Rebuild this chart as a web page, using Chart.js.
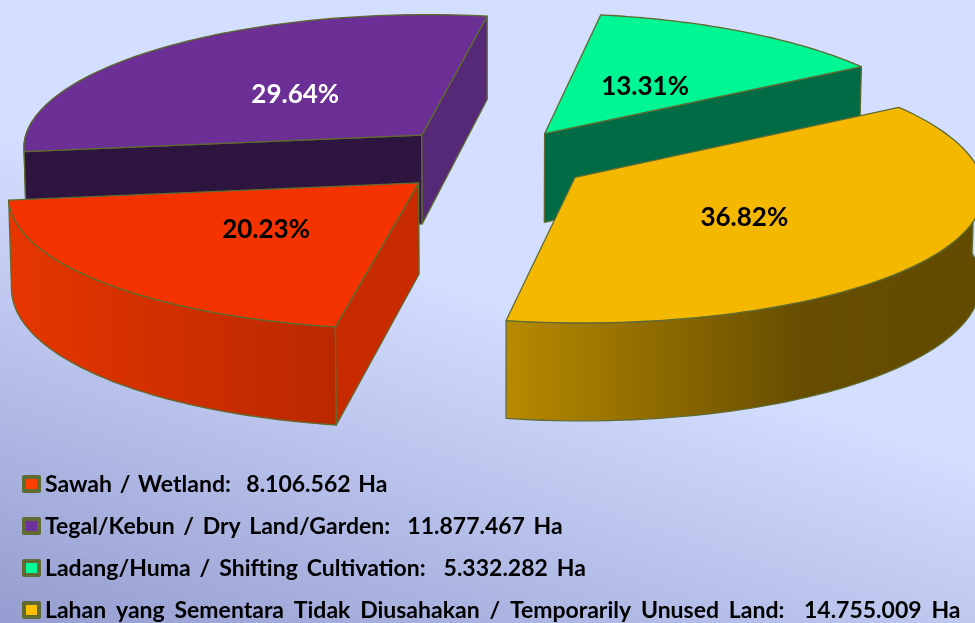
<!DOCTYPE html>
<html>
<head>
<meta charset="utf-8">
<style>html,body{margin:0;padding:0;background:#d4deff;overflow:hidden}canvas{display:block}</style>
<script src="https://cdn.jsdelivr.net/npm/chart.js@4/dist/chart.umd.min.js"></script>
</head>
<body>
<canvas id="c" width="975" height="623"></canvas>
<script>
const categories = ['Sawah / Wetland', 'Tegal/Kebun / Dry Land/Garden', 'Ladang/Huma / Shifting Cultivation', 'Lahan yang Sementara Tidak Diusahakan / Temporarily Unused Land'];
const hectares = [8106562, 11877467, 5332282, 14755009];
const unit = 'Ha';

const topColors = ['#F53300', '#6B2F95', '#00F593', '#F4B800'];
const markerColors = ['#FF4000', '#7030A0', '#00FF99', '#FFC000'];
const labelColors = ['#000000', '#FFFFFF', '#000000', '#000000'];
const explode = [102, 105, 96, 98];
const labelReach = [0.52, 0.45, 0.43, 0.5];
const labelNudgeX = [8, -8, 11, -6];
const labelNudgeY = [-3, 0, -2, 2];
const legendWordGap = [2.1, 3.0, 3.4, 4.2];
const drawOrder = [1, 2, 0, 3];
const edge = '#5F6B30';

// camera
const squash = 0.327, focalY = 14, focalX = 12, widthScale = 0.993, depth = 90, taper = 0.994;

function proj(cx, cy, R, u, v, h) {
  const py = focalY / (focalY - v / R);
  const px = widthScale * focalX / (focalX - v / R);
  return { x: cx + u * px * (h ? taper : 1), y: cy + squash * v * py + (h ? depth * py : 0) };
}

function wallFill(ctx, i, x0, x1) {
  const g = ctx.createLinearGradient(x0, 0, x1, 0);
  if (i === 0) { g.addColorStop(0, '#E63600'); g.addColorStop(1, '#BA2800'); }
  else if (i === 3) { g.addColorStop(0, '#B88A00'); g.addColorStop(0.6, '#664D00'); g.addColorStop(1, '#624A00'); }
  else if (i === 1) { g.addColorStop(0, '#2E1540'); g.addColorStop(1, '#2E1540'); }
  else { g.addColorStop(0, '#006B45'); g.addColorStop(1, '#006B45'); }
  return g;
}
const radialWall = ['#C82B00', '#562878', '#006B45', '#8A6800'];

const pie3d = {
  id: 'pie3d',
  beforeDraw(chart) {
    const { ctx, width, height } = chart;
    const g = ctx.createLinearGradient(0, 130, -149, 572);
    g.addColorStop(0, '#D4DEFF');
    g.addColorStop(1, '#959DD0');
    ctx.save();
    ctx.fillStyle = g;
    ctx.fillRect(0, 0, width, height);
    ctx.restore();
  },
  beforeDatasetsDraw(chart) {
    const { ctx } = chart;
    const meta = chart.getDatasetMeta(0);
    const total = hectares.reduce((a, b) => a + b, 0);
    ctx.save();
    ctx.lineJoin = 'round';
    ctx.lineWidth = 1.3;
    ctx.strokeStyle = edge;
    for (const i of drawOrder) {
      const el = meta.data[i];
      const { x: cx, y: cy, startAngle: a0, endAngle: a1, outerRadius: R } = el;
      const mid = (a0 + a1) / 2;
      const d = el.options.offset / 4;
      const ax = Math.cos(mid) * d, ay = Math.sin(mid) * d;
      const P = (a, r, h) => proj(cx, cy, R, ax + Math.cos(a) * r, ay + Math.sin(a) * r, h);
      const N = 80;
      // outer wall
      const upper = [], lower = [];
      for (let k = 0; k <= N; k++) {
        const a = a0 + (a1 - a0) * k / N;
        if (Math.sin(a) > -0.12) { upper.push(P(a, R, 0)); lower.push(P(a, R, 1)); }
      }
      if (upper.length > 1) {
        const xs = upper.map(p => p.x);
        ctx.beginPath();
        upper.forEach((p, k) => k ? ctx.lineTo(p.x, p.y) : ctx.moveTo(p.x, p.y));
        lower.slice().reverse().forEach(p => ctx.lineTo(p.x, p.y));
        ctx.closePath();
        ctx.fillStyle = wallFill(ctx, i, Math.min(...xs), i === 3 ? 1000 : Math.max(...xs));
        ctx.fill();
        ctx.stroke();
      }
      // radial walls facing the viewer
      [[a0, a0 - Math.PI / 2], [a1, a1 + Math.PI / 2]].forEach(([a, n]) => {
        const ex = ax + Math.cos(a) * R / 2, ey = ay + Math.sin(a) * R / 2;
        const dot = Math.cos(n) * (0 - ex) + Math.sin(n) * (focalY * R - ey);
        if (dot <= 0) return;
        const A = P(a, 0, 0), B = P(a, R, 0), C = P(a, R, 1), D = P(a, 0, 1);
        ctx.beginPath();
        ctx.moveTo(A.x, A.y); ctx.lineTo(B.x, B.y); ctx.lineTo(C.x, C.y); ctx.lineTo(D.x, D.y);
        ctx.closePath();
        const isFront = i === 1 && a === a0;
        ctx.fillStyle = isFront ? '#2E1540' : radialWall[i];
        ctx.fill();
        ctx.stroke();
      });
      // top face
      ctx.beginPath();
      const A = P(a0, 0, 0);
      ctx.moveTo(A.x, A.y);
      for (let k = 0; k <= N; k++) {
        const p = P(a0 + (a1 - a0) * k / N, R, 0);
        ctx.lineTo(p.x, p.y);
      }
      ctx.closePath();
      ctx.fillStyle = el.options.backgroundColor;
      ctx.fill();
      ctx.stroke();
    }
    // percentage labels
    ctx.textAlign = 'center';
    ctx.textBaseline = 'middle';
    ctx.font = 'bold 26px Lato, "Open Sans", sans-serif';
    meta.data.forEach((el, i) => {
      const { x: cx, y: cy, startAngle: a0, endAngle: a1, outerRadius: R } = el;
      const mid = (a0 + a1) / 2;
      const d = el.options.offset / 4 + labelReach[i] * R;
      const p = proj(cx, cy, R, Math.cos(mid) * d, Math.sin(mid) * d, 0);
      ctx.fillStyle = labelColors[i];
      ctx.fillText((hectares[i] / total * 100).toFixed(2) + '%', p.x + labelNudgeX[i], p.y + labelNudgeY[i]);
    });
    ctx.restore();
    return false;
  },
  afterDraw(chart) {
    const { ctx } = chart;
    const fmt = n => String(n).replace(/\B(?=(\d{3})+(?!\d))/g, '.');
    ctx.save();
    ctx.textAlign = 'left';
    ctx.textBaseline = 'alphabetic';
    ctx.font = 'bold 23px Lato, "Open Sans", sans-serif';
    categories.forEach((c, i) => {
      const y = 484 + i * 42;
      ctx.fillStyle = edge;
      ctx.beginPath();
      ctx.roundRect(22, y - 9, 19, 18, 2);
      ctx.fill();
      ctx.fillStyle = markerColors[i];
      ctx.fillRect(26, y - 5, 11, 10);
      ctx.fillStyle = '#000';
      ctx.wordSpacing = legendWordGap[i] + 'px';
      ctx.fillText(c + ':  ' + fmt(hectares[i]) + ' ' + unit, 45, y + 8);
    });
    ctx.restore();
  }
};

new Chart(document.getElementById('c'), {
  type: 'pie',
  data: {
    labels: categories,
    datasets: [{
      data: hectares,
      backgroundColor: topColors,
      borderColor: edge,
      borderWidth: 1,
      offset: explode.map(d => d * 4)
    }]
  },
  options: {
    responsive: false,
    animation: false,
    rotation: 189.9,
    radius: 405,
    cutout: '0%',
    layout: { padding: { left: 11, top: 0, right: 0, bottom: 304 } },
    plugins: { legend: { display: false }, tooltip: { enabled: false } }
  },
  plugins: [pie3d]
});
</script>
</body>
</html>
